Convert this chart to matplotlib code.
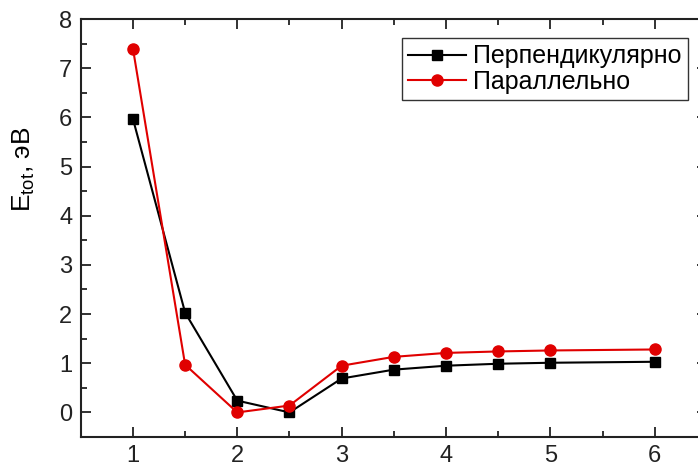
import matplotlib
matplotlib.use('Agg')
import matplotlib.pyplot as plt
from matplotlib.ticker import MultipleLocator

plt.rcParams['font.family'] = ['Liberation Sans', 'DejaVu Sans']

# distance values and total energies for both orientations
x = [1, 1.5, 2, 2.5, 3, 3.5, 4, 4.5, 5, 6]
e_perp = [5.97, 2.03, 0.24, 0.0, 0.69, 0.87, 0.95, 0.99, 1.01, 1.03]
e_par = [7.40, 0.97, 0.0, 0.14, 0.95, 1.13, 1.21, 1.24, 1.26, 1.28]
label_perp = 'Перпендикулярно'
label_par = 'Параллельно'

fig = plt.figure(figsize = (6.98, 4.66), dpi = 100)
ax = fig.add_axes([0.1157, 0.0622, 0.897, 0.897])

ax.plot(x, e_perp, color = 'black', marker = 's', ms = 7, lw = 1.5, label = label_perp)
ax.plot(x, e_par, color = '#e00000', marker = 'o', ms = 8, lw = 1.5, label = label_par,
        markeredgecolor = '#e00000')

ax.set_xlim(0.5, 6.5)
ax.set_ylim(-0.5, 8)
ax.xaxis.set_major_locator(MultipleLocator(1))
ax.xaxis.set_minor_locator(MultipleLocator(0.5))
ax.yaxis.set_major_locator(MultipleLocator(1))
ax.yaxis.set_minor_locator(MultipleLocator(0.5))
ax.tick_params(which = 'both', direction = 'in', top = True, right = True, width = 1.3, labelsize = 17, colors = '#222222')
ax.tick_params(which = 'major', length = 7)
ax.tick_params(which = 'minor', length = 4)
ax.tick_params(axis = 'x', pad = 6)
ax.tick_params(axis = 'y', pad = 6)
for s in ax.spines.values():
    s.set_linewidth(1.5)
    s.set_color('#222222')

ax.set_ylabel('E$_{\\mathregular{tot}}$, эВ', fontsize = 19)
ax.yaxis.set_label_coords(-0.070, 0.64)

leg = ax.legend(loc = 'upper right', bbox_to_anchor = (0.970, 0.9545), borderaxespad = 0, fontsize = 18,
                fancybox = False, framealpha = 1, edgecolor = '#333333', borderpad = 0.25, handlelength = 2.3,
                handletextpad = 0.3, labelspacing = 0.05)
leg.get_frame().set_linewidth(1.0)

fig.savefig('out.png', dpi = 100)
